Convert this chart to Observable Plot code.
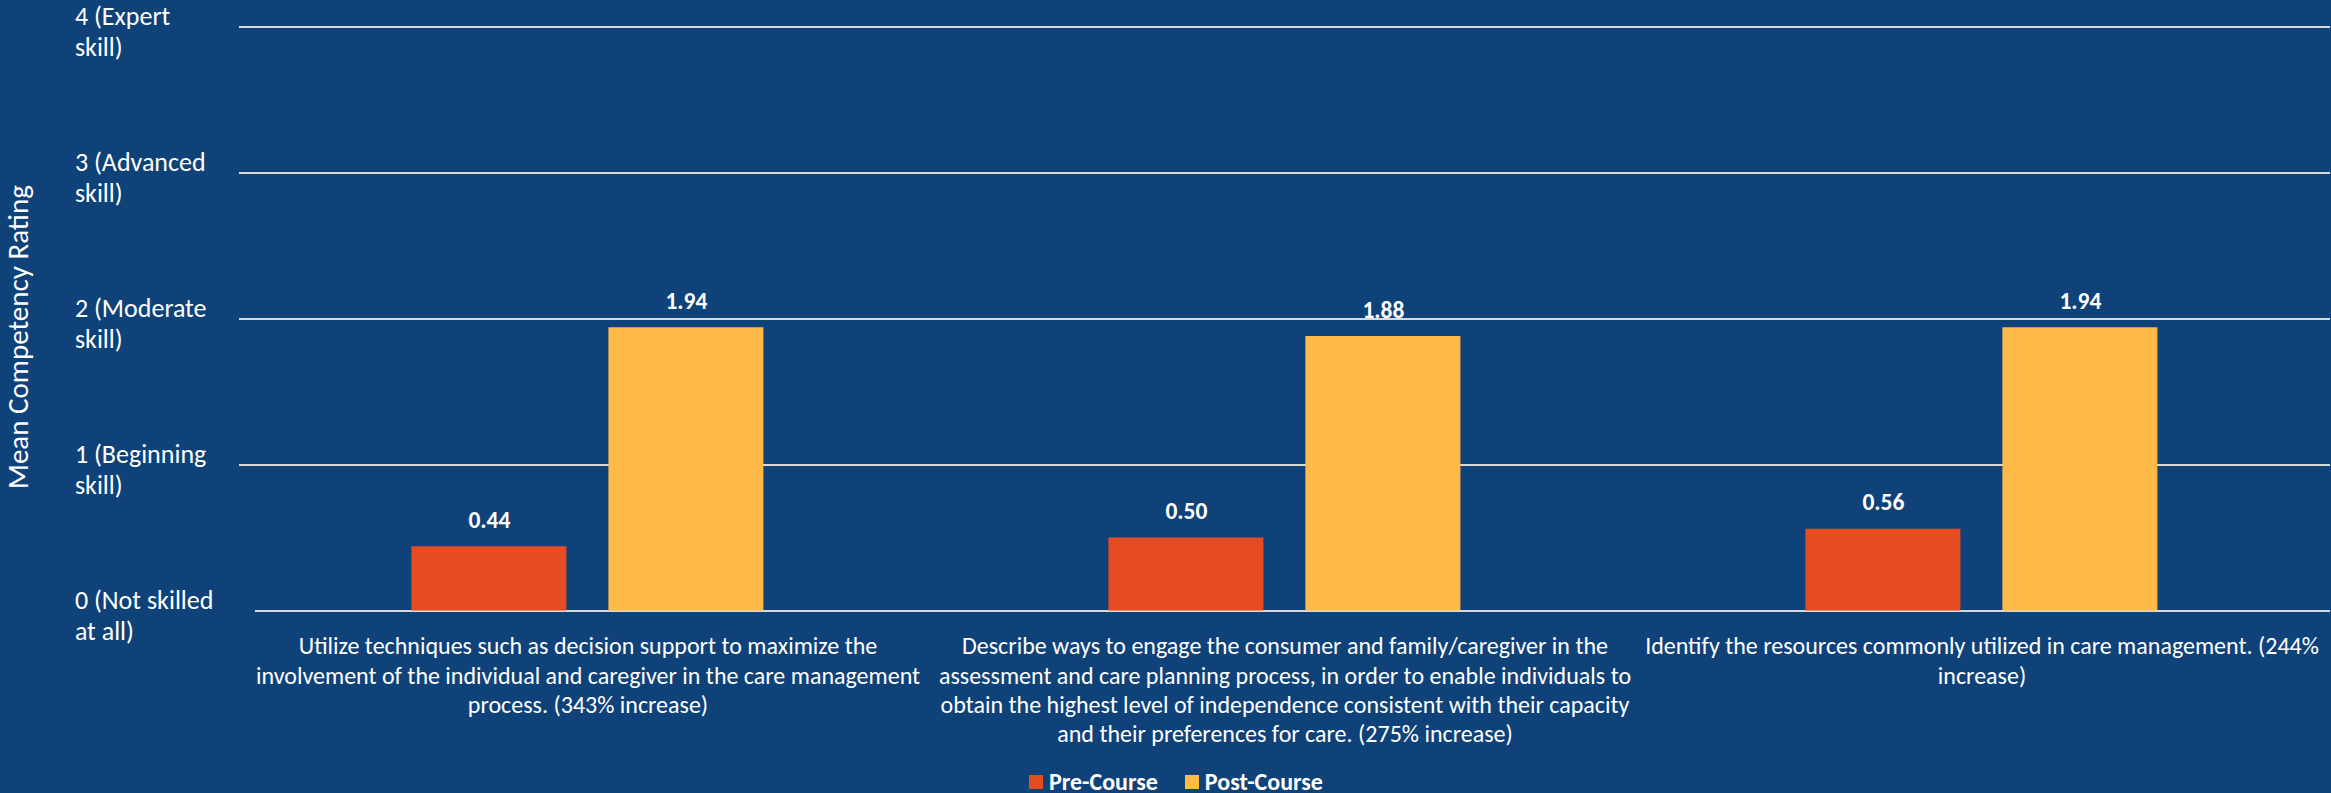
<!DOCTYPE html>
<html>
<head>
<meta charset="utf-8">
<script src="https://cdn.jsdelivr.net/npm/d3@7"></script>
<script src="https://cdn.jsdelivr.net/npm/@observablehq/plot@0.6"></script>
<style>
  html, body { margin: 0; padding: 0; background: #0F4279; }
  body { width: 2331px; height: 793px; overflow: hidden; position: relative; font-family: Carlito, Calibri, Lato, sans-serif; }
  #legend { position: absolute; left: 1029px; top: 767px; display: flex; align-items: center; color: #fff; font-weight: bold; font-size: 24px; white-space: nowrap; }
  #legend .item { display: flex; align-items: center; margin-right: 27px; }
  #legend .sw { width: 14px; height: 14px; margin-right: 6px; }
</style>
</head>
<body>
<div id="chart"></div>
<div id="legend"></div>
<script>
const categories = [
  "Utilize techniques such as decision support to maximize the involvement of the individual and caregiver in the care management process. (343% increase)",
  "Describe ways to engage the consumer and family/caregiver in the assessment and care planning process, in order to enable individuals to obtain the highest level of independence consistent with their capacity and their preferences for care. (275% increase)",
  "Identify the resources commonly utilized in care management. (244% increase)"
];
const categoryTickLabels = [
  "Utilize techniques such as decision support to maximize the\ninvolvement of the individual and caregiver in the care management\nprocess. (343% increase)",
  "Describe ways to engage the consumer and family/caregiver in the\nassessment and care planning process, in order to enable individuals to\nobtain the highest level of independence consistent with their capacity\nand their preferences for care. (275% increase)",
  "Identify the resources commonly utilized in care management. (244%\nincrease)"
];
const series = ["Pre-Course", "Post-Course"];
const preCourse = [0.44, 0.50, 0.56];
const postCourse = [1.94, 1.88, 1.94];
const seriesColors = ["#E64C22", "#FFBA47"];
const yTicks = [0, 1, 2, 3, 4];
const yTickLabels = ["0 (Not skilled\nat all)", "1 (Beginning\nskill)", "2 (Moderate\nskill)", "3 (Advanced\nskill)", "4 (Expert\nskill)"];
const yTitle = "Mean Competency Rating";

const rows = [];
categories.forEach((c, i) => {
  rows.push({category: c, series: series[0], value: preCourse[i]});
  rows.push({category: c, series: series[1], value: postCourse[i]});
});

const FONT = "Carlito, Calibri, Lato, sans-serif";
const W = 2331, H = 765;
const yTop = 26.5, yZero = 610.5;
const mLeft = 237.6;
const first = categories[0];

const chart = Plot.plot({
  width: W,
  height: H,
  marginTop: yTop,
  marginBottom: H - yZero,
  marginLeft: mLeft,
  marginRight: 0,
  style: {background: "transparent", color: "#ffffff", fontFamily: FONT, overflow: "visible"},
  fx: {domain: categories, padding: 0, axis: null, label: null},
  x: {domain: series, paddingInner: 0.212, paddingOuter: 0.869, axis: null, label: null},
  y: {domain: [0, 4], axis: null, label: null},
  color: {domain: series, range: seriesColors},
  marks: [
    Plot.ruleY(yTicks.filter(d => d > 0), {y: d => d, stroke: "#D9D9D9", strokeWidth: 2}),
    Plot.ruleY([first], {fx: d => d, y: () => 0, stroke: "#D9D9D9", strokeWidth: 2, dx: 16}),
    Plot.ruleY(categories.slice(1), {fx: d => d, y: () => 0, stroke: "#D9D9D9", strokeWidth: 2}),
    Plot.barY(rows, {fx: "category", x: "series", y: "value", fill: "series"}),
    Plot.text(rows, {fx: "category", x: "series", y: "value", text: d => d.value.toFixed(2),
      lineAnchor: "bottom", dy: -19, fontWeight: "bold", fontSize: 23.5, fill: "#ffffff"}),
    Plot.text(categories, {fx: d => d, frameAnchor: "bottom", text: (d, i) => categoryTickLabels[i],
      lineAnchor: "top", textAnchor: "middle", fontSize: 24, lineHeight: 1.22, dy: 22.5, fill: "#ffffff"}),
    Plot.text(yTicks, {fx: () => first, y: d => d, frameAnchor: "left", text: (d, i) => yTickLabels[i],
      textAnchor: "start", lineAnchor: "top", fontSize: 26, lineHeight: 1.2, dx: 73 - mLeft, dy: -6 - 0.71 * 26, fill: "#ffffff"}),
    Plot.text([yTitle], {fx: () => first, frameAnchor: "left", text: d => d, rotate: -90,
      textAnchor: "middle", fontSize: 29, dx: -221, dy: 18, fill: "#ffffff"})
  ]
});
document.getElementById("chart").appendChild(chart);

const legend = document.getElementById("legend");
series.forEach((s, i) => {
  const item = document.createElement("div");
  item.className = "item";
  const sw = document.createElement("div");
  sw.className = "sw";
  sw.style.background = seriesColors[i];
  const label = document.createElement("span");
  label.textContent = s;
  item.appendChild(sw);
  item.appendChild(label);
  legend.appendChild(item);
});
</script>
</body>
</html>
